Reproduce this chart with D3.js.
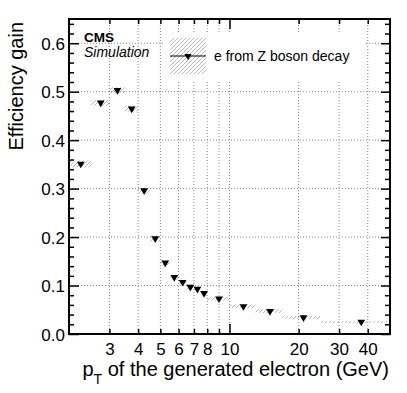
<!DOCTYPE html>
<html>
<head>
<meta charset="utf-8">
<script src="https://cdn.jsdelivr.net/npm/d3@7"></script>
<style>
  body { margin: 0; background: #fff; }
  text { font-family: "Liberation Sans", Arial, sans-serif; fill: #000; }
</style>
</head>
<body>
<div id="chart"></div>
<script>
// pT bins of the generated electron (GeV)
const binLow  = [2, 2.5, 3, 3.5, 4, 4.5, 5, 5.5, 6, 6.5, 7, 7.5, 8, 10, 13, 17, 25];
const binHigh = [2.5, 3, 3.5, 4, 4.5, 5, 5.5, 6, 6.5, 7, 7.5, 8, 10, 13, 17, 25, 50];
const ptCenter = [2.25, 2.75, 3.25, 3.75, 4.25, 4.75, 5.25, 5.75, 6.25, 6.75, 7.25, 7.75, 9, 11.5, 15, 21, 37.5];
// efficiency gain, e from Z boson decay
const gain    = [0.351, 0.477, 0.503, 0.465, 0.296, 0.197, 0.147, 0.117, 0.107, 0.097, 0.093, 0.084, 0.073, 0.057, 0.047, 0.034, 0.025];
const gainErr = [0.007, 0.006, 0.006, 0.006, 0.006, 0.006, 0.005, 0.005, 0.005, 0.005, 0.005, 0.005, 0.004, 0.004, 0.004, 0.003, 0.002];

const xTickLabels = [3, 4, 5, 6, 7, 8, 10, 20, 30, 40];
const xMinorTicks = [3, 4, 5, 6, 7, 8, 9, 20, 30, 40];
const xMajorTicks = [10];
const xGrid = [3, 4, 5, 6, 7, 8, 9, 10, 20, 30, 40];
const yTicks = [0, 0.1, 0.2, 0.3, 0.4, 0.5, 0.6];
const yMinorTicks = [0.02, 0.04, 0.06, 0.08, 0.12, 0.14, 0.16, 0.18, 0.22, 0.24, 0.26, 0.28,
                     0.32, 0.34, 0.36, 0.38, 0.42, 0.44, 0.46, 0.48, 0.52, 0.54, 0.56, 0.58, 0.62, 0.64];

const margin = {top: 19, right: 17, bottom: 59, left: 69},
  width = 407 - margin.left - margin.right,
  height = 393 - margin.top - margin.bottom;

const root = d3.select("#chart").append("svg")
  .attr("width", 407).attr("height", 393);

const defs = root.append("defs");
defs.append("pattern")
  .attr("id", "hatch")
  .attr("patternUnits", "userSpaceOnUse")
  .attr("width", 4).attr("height", 4)
  .append("path")
  .attr("d", "M-1,1 l2,-2 M0,4 l4,-4 M3,5 l2,-2")
  .attr("stroke", "#999")
  .attr("stroke-width", 0.7);

const svg = root.append("g")
  .attr("transform", `translate(${margin.left},${margin.top})`);

const x = d3.scaleLog().domain([2, 50]).range([0, width]);
const y = d3.scaleLinear().domain([0, 0.65]).range([height, 0]);

// grid
const grid = svg.append("g").attr("class", "grid");
grid.selectAll(".gx").data(xGrid).join("line")
  .attr("x1", d => x(d)).attr("x2", d => x(d))
  .attr("y1", 0).attr("y2", height);
grid.selectAll(".gy").data(yTicks.filter(d => d > 0)).join("line")
  .attr("y1", d => y(d)).attr("y2", d => y(d))
  .attr("x1", 0).attr("x2", width);
grid.selectAll("line")
  .attr("stroke", "#888")
  .attr("stroke-width", 1)
  .attr("stroke-dasharray", "1,2");

// legend background hides grid
svg.append("rect")
  .attr("x", 163 - margin.left).attr("y", 32 - margin.top)
  .attr("width", 203).attr("height", 49)
  .attr("fill", "#fff");

// hatched error boxes
svg.selectAll(".err")
  .data(gain)
  .enter()
  .append("rect")
  .attr("class", "err")
  .attr("x", (d, i) => x(binLow[i]))
  .attr("width", (d, i) => x(binHigh[i]) - x(binLow[i]))
  .attr("y", (d, i) => y(d + gainErr[i]))
  .attr("height", (d, i) => y(d - gainErr[i]) - y(d + gainErr[i]))
  .attr("fill", "url(#hatch)");

// markers
const tri = d3.symbol(d3.symbolTriangle, 26);
svg.selectAll(".pt")
  .data(gain)
  .enter()
  .append("path")
  .attr("class", "pt")
  .attr("d", tri)
  .attr("transform", (d, i) => `translate(${x(ptCenter[i])},${y(d)}) rotate(180)`)
  .attr("fill", "#000");

// axes
function cleanAxis(g) {
  g.select(".domain").remove();
  g.selectAll("line").attr("stroke", "#000").attr("stroke-width", 1.5);
  g.selectAll("text").style("font-size", "17px").style("font-family", '"Liberation Sans", Arial, sans-serif');
}

svg.append("g")
  .call(d3.axisLeft(y).tickValues(yTicks).tickSize(-10).tickPadding(4).tickFormat(d3.format(".1f")))
  .call(cleanAxis)
  .selectAll("text").attr("dy", "0.36em");
svg.append("g")
  .call(d3.axisLeft(y).tickValues(yMinorTicks).tickSize(-5).tickFormat(""))
  .call(cleanAxis);
svg.append("g")
  .attr("transform", `translate(${width},0)`)
  .call(d3.axisRight(y).tickValues(yTicks).tickSize(-9).tickFormat(""))
  .call(cleanAxis);
svg.append("g")
  .attr("transform", `translate(${width},0)`)
  .call(d3.axisRight(y).tickValues(yMinorTicks).tickSize(-5).tickFormat(""))
  .call(cleanAxis);

svg.append("g")
  .attr("transform", `translate(0,${height})`)
  .call(d3.axisBottom(x).tickValues(xTickLabels).tickSize(0).tickPadding(9).tickFormat(d3.format("d")))
  .call(cleanAxis);
svg.append("g")
  .attr("transform", `translate(0,${height})`)
  .call(d3.axisBottom(x).tickValues(xMinorTicks).tickSize(-5).tickFormat(""))
  .call(cleanAxis);
svg.append("g")
  .attr("transform", `translate(0,${height})`)
  .call(d3.axisBottom(x).tickValues(xMajorTicks).tickSize(-10).tickFormat(""))
  .call(cleanAxis);
svg.append("g")
  .call(d3.axisTop(x).tickValues(xMinorTicks).tickSize(-5).tickFormat(""))
  .call(cleanAxis);
svg.append("g")
  .call(d3.axisTop(x).tickValues(xMajorTicks).tickSize(-10).tickFormat(""))
  .call(cleanAxis);

// frame
svg.append("rect")
  .attr("width", width).attr("height", height)
  .attr("fill", "none")
  .attr("stroke", "#000")
  .attr("stroke-width", 2);

// legend
const lg = root.append("g");
lg.append("rect")
  .attr("x", 170).attr("y", 38).attr("width", 36).attr("height", 36)
  .attr("fill", "url(#hatch)");
lg.append("line")
  .attr("x1", 170).attr("x2", 206).attr("y1", 56).attr("y2", 56)
  .attr("stroke", "#000").attr("stroke-width", 1);
lg.append("path")
  .attr("d", d3.symbol(d3.symbolTriangle, 22))
  .attr("transform", "translate(188,56) rotate(180)")
  .attr("fill", "#000");
lg.append("text")
  .attr("x", 214).attr("y", 61)
  .style("font-size", "14px")
  .text("e from Z boson decay");

root.append("text")
  .attr("x", 84).attr("y", 42)
  .style("font-size", "13.5px").style("font-weight", "bold")
  .text("CMS");
root.append("text")
  .attr("x", 84).attr("y", 57)
  .style("font-size", "14px").style("font-style", "italic")
  .text("Simulation");

// axis titles
const xt = root.append("text")
  .attr("x", 389).attr("y", 376)
  .style("font-size", "20px")
  .style("text-anchor", "end");
xt.append("tspan").text("p");
xt.append("tspan").attr("dy", 8).style("font-size", "14px").text("T");
xt.append("tspan").attr("dy", -8).text(" of the generated electron (GeV)");

root.append("text")
  .attr("transform", "translate(23,22) rotate(-90)")
  .style("font-size", "20px")
  .style("text-anchor", "end")
  .text("Efficiency gain");
</script>
</body>
</html>
